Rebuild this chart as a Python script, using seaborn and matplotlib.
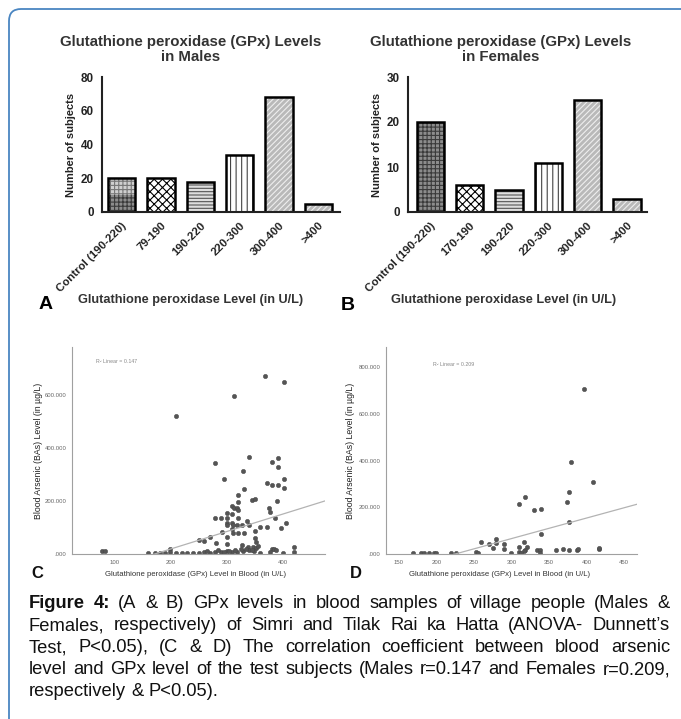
import matplotlib
matplotlib.use("Agg")
import matplotlib.pyplot as plt
import seaborn as sns
from matplotlib.patches import FancyBboxPatch
from matplotlib.transforms import IdentityTransform

# --- data ---
male_groups = ["Control (190-220)", "79-190", "190-220", "220-300", "300-400", ">400"]
male_counts = [20, 20, 18, 34, 68, 5]
male_control_lower = 10  # control bar is drawn in two tones

female_groups = ["Control (190-220)", "170-190", "190-220", "220-300", "300-400", ">400"]
female_counts = [20, 6, 5, 11, 25, 3]

male_gpx = [79, 84, 210, 313, 369, 402, 339, 280, 381, 391, 391, 330, 295, 402, 371, 381, 391, 402, 331,
            321, 321, 346, 350, 389, 310, 313, 319, 320, 301, 310, 375, 377,
            280, 290, 301, 321, 337, 386, 405, 397, 300, 301, 309, 311, 319, 328, 340, 360, 371, 351,
            291, 270, 250, 260, 310, 311, 320, 331, 301, 350, 352, 281, 301, 328, 338, 347, 353, 380, 384, 420, 200,
            161, 173, 181, 191, 199, 210, 220, 230, 240, 250, 260, 270, 279, 290, 300, 310, 319, 329, 339, 349,
            359, 378, 400, 420, 265, 285, 295, 305, 315, 335, 345, 325, 355, 388]
male_bas = [10, 10, 521, 594, 672, 647, 367, 342, 346, 361, 326, 313, 282, 282, 267, 260, 260, 248, 244,
            224, 197, 204, 207, 200, 179, 172, 175, 166, 156, 150, 175, 157,
            137, 137, 137, 137, 125, 137, 118, 99, 118, 109, 118, 109, 109, 109, 109, 103, 103, 87,
            84, 65, 53, 50, 93, 80, 80, 80, 65, 59, 47, 40, 36, 34, 28, 28, 21, 18, 18, 25, 19,
            3, 4, 5, 3, 6, 4, 5, 4, 5, 4, 6, 5, 8, 7, 10, 6, 9, 12, 15, 10,
            5, 8, 4, 6, 12, 14, 9, 12, 14, 20, 14, 20, 30, 14]
male_fit_x = [25, 475]
male_fit_y = [-97, 200]

female_gpx = [397, 379, 409, 377, 374, 318, 310, 330, 339, 376, 339,
              259, 270, 279, 279, 275, 290, 290, 316, 310, 320, 318, 316, 334, 338, 338, 359, 369, 377,
              387, 389, 417, 417, 299, 310, 312, 253, 255,
              169, 179, 183, 190, 197, 200, 219, 226]
female_bas = [707, 395, 310, 267, 221, 246, 216, 187, 193, 136, 86,
              50, 41, 64, 46, 27, 41, 23, 53, 31, 31, 17, 14, 17, 17, 6, 17, 20, 17,
              17, 20, 21, 24, 6, 10, 6, 7, 6,
              3, 3, 3, 3, 3, 3, 3, 3]
female_fit_x = [133, 467]
female_fit_y = [-81, 213]

caption_lines = [
    [("Figure", True), ("4:", True), ("(A", False), ("&", False), ("B)", False), ("GPx", False),
     ("levels", False), ("in", False), ("blood", False), ("samples", False), ("of", False),
     ("village", False), ("people", False), ("(Males", False), ("&", False)],
    "Females, respectively) of Simri and Tilak Rai ka Hatta (ANOVA- Dunnett\u2019s",
    "Test, P<0.05), (C & D) The correlation coefficient between blood arsenic",
    "level and GPx level of the test subjects (Males r=0.147 and Females r=0.209,",
    "respectively & P<0.05).",
]

# bar styles (face, hatch, hatch colour) by position
bar_faces = ["#8c8c8c", "white", "#dedede", "white", "#b9b9b9", "#b9b9b9"]
bar_hatches = ["++++", "xxxx", "-----", "|||", "//////", "//////"]
hatch_cols = ["#3a3a3a", "black", "#555555", "#444444", "#eeeeee", "#eeeeee"]

sns.set_style("white")
plt.rcParams["font.family"] = ["Liberation Sans", "DejaVu Sans"]
plt.rcParams["hatch.linewidth"] = 0.8

W, H = 681, 719
fig = plt.figure(figsize=(W / 100, H / 100), dpi=100)


def px_axes(l, t, r, b):
    return fig.add_axes([l / W, 1 - b / H, (r - l) / W, (b - t) / H])


def ftext(x, y, s, **kw):
    return fig.text(x / W, 1 - y / H, s, **kw)


def bar_panel(ax, groups, counts, ymax, yticks, xlim, lower=None):
    n0 = len(ax.patches)
    sns.barplot(x=groups, y=counts, ax=ax, width=0.69, color="white", linewidth=0)
    for p, fc, h, hc in zip(ax.patches[n0:], bar_faces, bar_hatches, hatch_cols):
        p.set_facecolor(fc)
        p.set_edgecolor(hc)
        p.set_hatch(h)
    if lower is not None:
        # upper part of the control bar is lighter
        ax.patches[n0].set_facecolor("#cfcfcf")
        ax.patches[n0].set_edgecolor("#777777")
        n1 = len(ax.patches)
        sns.barplot(x=groups[:1], y=[lower], ax=ax, width=0.69, color="white", linewidth=0)
        for p in ax.patches[n1:]:
            p.set_facecolor(bar_faces[0])
            p.set_edgecolor(hatch_cols[0])
            p.set_hatch(bar_hatches[0])
    n2 = len(ax.patches)
    sns.barplot(x=groups, y=counts, ax=ax, width=0.69, color="white")
    for p in ax.patches[n2:]:
        p.set_facecolor("none")
        p.set_edgecolor("black")
        p.set_linewidth(1.8)
    ax.set_xlim(*xlim)
    ax.set_ylim(0, ymax)
    ax.set_yticks(yticks)
    ax.set_xticks(range(len(groups)))
    ax.set_xticklabels(groups, rotation=45, ha="right", rotation_mode="anchor",
                       fontweight="bold", fontsize=8.2, color="#222222")
    ax.set_yticklabels([str(v) for v in yticks], fontweight="bold", fontsize=8.4, color="#222222")
    ax.set_xlabel("")
    ax.set_ylabel("Number of subjects", fontweight="bold", fontsize=8, color="#222222", labelpad=3)
    sns.despine(ax=ax)
    for s in ["left", "bottom"]:
        ax.spines[s].set_linewidth(1.5)
        ax.spines[s].set_color("#222222")
    ax.tick_params(direction="out", length=4, width=1.4, color="#222222", pad=2)


def scatter_panel(ax, gx, bas, fit_x, fit_y, xlim, xticks, ylim, yticks, r2, r2pos, ylab_x):
    sns.scatterplot(x=gx, y=bas, ax=ax, color="#555555", s=10, edgecolor="#444444", linewidth=0.3)
    sns.lineplot(x=fit_x, y=fit_y, ax=ax, color="#b3b3b3", linewidth=0.9)
    ax.set_xlim(*xlim)
    ax.set_ylim(*ylim)
    ax.set_xticks(xticks)
    ax.set_xticklabels([str(v) for v in xticks])
    ax.set_yticks(yticks)
    ax.set_yticklabels([".000" if v == 0 else f"{v}.000" for v in yticks])
    sns.despine(ax=ax)
    for s in ["left", "bottom"]:
        ax.spines[s].set_linewidth(0.8)
        ax.spines[s].set_color("#a0a0a0")
    ax.tick_params(direction="out", length=2, width=0.6, color="#a0a0a0",
                   labelsize=4.3, labelcolor="#666666", pad=2)
    ax.text(r2pos[0], r2pos[1], r2, fontsize=3.8, color="#888888")
    ax.set_ylabel("Blood Arsenic (BAs) Level (in \u00b5g/L)", fontsize=6.3, color="#222222")
    ax.yaxis.set_label_coords(ylab_x, 0.5)


# panel A
axA = px_axes(102, 77, 340, 212)
bar_panel(axA, male_groups, male_counts, 80, [0, 20, 40, 60, 80], (-0.5, 5.55),
          lower=male_control_lower)
ftext(191, 49.5, "Glutathione peroxidase (GPx) Levels\nin Males", ha="center", va="center",
      fontsize=10.8, fontweight="bold", color="#333333", linespacing=1.12)
ftext(191, 300, "Glutathione peroxidase Level (in U/L)", ha="center", va="center",
      fontsize=9.2, fontweight="bold", color="#333333")
ftext(46, 305, "A", ha="center", va="center", fontsize=14, fontweight="bold", color="black")

# panel B
axB = px_axes(408, 77, 647, 212)
bar_panel(axB, female_groups, female_counts, 30, [0, 10, 20, 30], (-0.57, 5.51))
ftext(501, 49.5, "Glutathione peroxidase (GPx) Levels\nin Females", ha="center", va="center",
      fontsize=10.8, fontweight="bold", color="#333333", linespacing=1.12)
ftext(504, 300, "Glutathione peroxidase Level (in U/L)", ha="center", va="center",
      fontsize=9.2, fontweight="bold", color="#333333")
ftext(348, 306, "B", ha="center", va="center", fontsize=14, fontweight="bold", color="black")

# panel C
axC = px_axes(72, 347, 325, 554)
scatter_panel(axC, male_gpx, male_bas, male_fit_x, male_fit_y, (25, 475), [100, 200, 300, 400],
              (0, 780), [0, 200, 400, 600], "R\u00b2 Linear = 0.147", (68, 718), -0.115)
ftext(196, 575, "Glutathione peroxidase (GPx) Level in Blood (in U/L)", ha="center", va="center",
      fontsize=5.6, color="#333333")
ftext(37, 573, "C", ha="center", va="center", fontsize=12, fontweight="bold", color="#111111")

# panel D
axD = px_axes(386, 347, 637, 554)
scatter_panel(axD, female_gpx, female_bas, female_fit_x, female_fit_y, (133, 467),
              [150, 200, 250, 300, 350, 400, 450], (0, 886), [0, 200, 400, 600, 800],
              "R\u00b2 Linear = 0.209", (196, 805), -0.123)
ftext(500, 575, "Glutathione peroxidase (GPx) Level in Blood (in U/L)", ha="center", va="center",
      fontsize=5.6, color="#333333")
ftext(356, 573, "D", ha="center", va="center", fontsize=12, fontweight="bold", color="#111111")

# caption, justified like the journal layout
renderer = fig.canvas.get_renderer()
cap_size = 13.2
x0, x1 = 29, 670
cap_y = [604, 626, 648, 670, 692]
for i, line in enumerate(caption_lines):
    words = line if isinstance(line, list) else [(w, False) for w in line.split(" ")]
    texts = []
    for w, bold in words:
        t = ftext(0, cap_y[i], w, ha="left", va="center", fontsize=cap_size,
                  fontweight="bold" if bold else "normal", color="#111111")
        texts.append(t)
    widths = [t.get_window_extent(renderer).width for t in texts]
    if i == len(caption_lines) - 1:
        gap = cap_size * 100 / 72 * 0.278
    else:
        gap = (x1 - x0 - sum(widths)) / (len(texts) - 1)
    x = x0
    for t, w in zip(texts, widths):
        t.set_x(x / W)
        x += w + gap

# frame around the figure (rounded top-left corner, runs off right and bottom)
frame = FancyBboxPatch((9, -40), 720, H - 9 + 40, boxstyle="round,pad=0,rounding_size=12",
                       transform=IdentityTransform(), fill=False, edgecolor="#4a86c2", linewidth=1.3)
fig.patches.append(frame)

fig.savefig("out.png", dpi=100)
